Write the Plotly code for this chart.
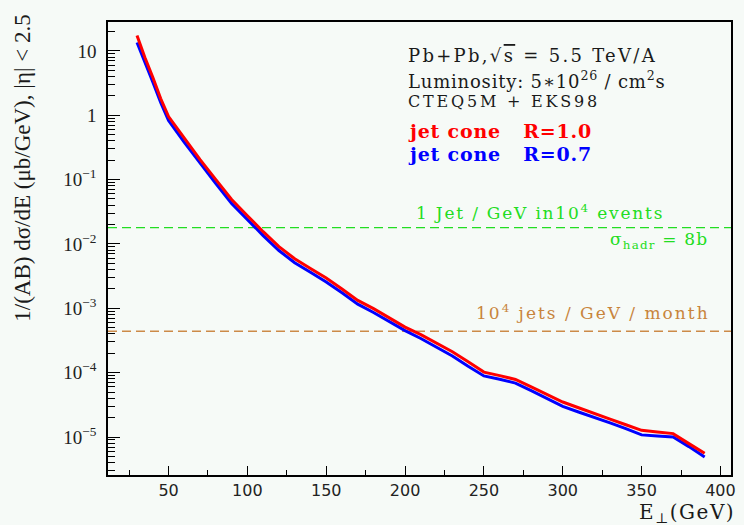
import math
import plotly.graph_objects as go

# Jet transverse energy bins (GeV)
e_perp = [30, 35, 40, 45, 50, 60, 70, 80, 90, 100, 110, 120, 130, 140, 150,
          160, 170, 180, 190, 200, 210, 220, 230, 240, 250, 260, 270, 280,
          290, 300, 310, 320, 330, 340, 350, 360, 370, 380, 390]

# 1/(AB) dsigma/dE (mub/GeV), cone R = 1.0
xsec_r10 = [17.4, 7.9, 3.9, 1.82, 0.955, 0.437, 0.204, 0.100, 0.049, 0.0275,
            0.0155, 0.0091, 0.0059, 0.00417, 0.00295, 0.0020, 0.00133,
            0.00099, 0.00072, 0.00051, 0.00039, 0.00029, 0.000211, 0.000148,
            0.000102, 9.0e-5, 7.85e-5, 6.0e-5, 4.6e-5, 3.5e-5, 2.85e-5,
            2.35e-5, 1.9e-5, 1.55e-5, 1.27e-5, 1.2e-5, 1.13e-5, 7.9e-6, 5.6e-6]

# 1/(AB) dsigma/dE (mub/GeV), cone R = 0.7
xsec_r07 = [13.5, 6.8, 3.3, 1.58, 0.83, 0.38, 0.178, 0.087, 0.0427, 0.024,
            0.0135, 0.0079, 0.0051, 0.00363, 0.00257, 0.00174, 0.00116,
            0.00086, 0.00063, 0.00045, 0.000340, 0.000251, 0.000182, 0.000126,
            8.9e-5, 7.9e-5, 6.9e-5, 5.25e-5, 4.0e-5, 3.0e-5, 2.45e-5,
            2.04e-5, 1.66e-5, 1.35e-5, 1.08e-5, 1.04e-5, 1.0e-5, 7.1e-6, 4.9e-6]

# Reference rate levels (mub/GeV)
one_jet_per_1e4_events = 1.8e-2
jets_1e4_per_month = 4.4e-4

x_range = [11.6, 406.7]
y_range_log = [-5.59, 1.449]
y_tickvals = [10, 1, 1e-1, 1e-2, 1e-3, 1e-4, 1e-5]
y_ticktext = ["10", "1", "10<sup>\u22121</sup>", "10<sup>\u22122</sup>",
              "10<sup>\u22123</sup>", "10<sup>\u22124</sup>", "10<sup>\u22125</sup>"]
x_tickvals = [50, 100, 150, 200, 250, 300, 350, 400]
x_minor_tickvals = [25, 75, 125, 175, 225, 275, 325, 375]

BG = "#f6faf7"
SERIF = "DejaVu Serif"
GREEN = "#22dd22"
ORANGE = "#c8843c"

fig = go.Figure()

# horizontal rate levels across the full axis width
fig.add_trace(go.Scatter(x=x_range, y=[one_jet_per_1e4_events] * 2, mode="lines",
                         line=dict(color=GREEN, width=1.3, dash="9px,5px"),
                         showlegend=False, hoverinfo="skip"))
fig.add_trace(go.Scatter(x=x_range, y=[jets_1e4_per_month] * 2, mode="lines",
                         line=dict(color="#cc8a48", width=1.6, dash="9px,5px"),
                         showlegend=False, hoverinfo="skip"))

fig.add_trace(go.Scatter(x=e_perp, y=xsec_r07, mode="lines",
                         line=dict(color="#0000ff", width=3), showlegend=False))
fig.add_trace(go.Scatter(x=e_perp, y=xsec_r10, mode="lines",
                         line=dict(color="#ff0000", width=3), showlegend=False))

# plot frame in pixels: left 108, right 736, top 22, bottom 475
L, R, T, B = 108, 736, 22, 475


def px(xp):
    return (xp - L) / (R - L)


def py(yp):
    return (B - yp) / (B - T)


def note(text, x, y, color="#1a1a1a", size=16, font=SERIF, xanchor="left",
         angle=0, spacing=None):
    if spacing is not None:
        text = f"<span style='letter-spacing:{spacing}px'>{text}</span>"
    fig.add_annotation(text=text, xref="paper", yref="paper", x=px(x), y=py(y),
                       xanchor=xanchor, yanchor="middle", showarrow=False,
                       textangle=angle, font=dict(family=font, size=size, color=color))


note("Pb+Pb,\u221a<span style='text-decoration:overline'>s</span> = 5.5 TeV/A",
     408, 55, size=18, spacing=2.3)
note("Luminosity: 5\u221710<sup>26</sup> / cm<sup>2</sup>s", 408, 80, size=18, spacing=0.8)
note("CTEQ5M + EKS98", 408, 101, size=16, spacing=2.8)
note("<b>jet cone\u00a0\u00a0\u00a0R=1.0</b>", 408, 131, color="#ff0000", size=19, spacing=0.8)
note("<b>jet cone\u00a0\u00a0\u00a0R=0.7</b>", 408, 154, color="#0000ff", size=19, spacing=0.8)
note("1 Jet / GeV in10<sup>4</sup> events", 416, 212, color=GREEN, size=17, spacing=1.8)
note("\u03c3<sub>hadr</sub> = 8b", 612, 240, color=GREEN, size=17, spacing=1.2)
note("10<sup>4</sup> jets / GeV / month", 477, 312, color=ORANGE, size=17, spacing=2.0)

# axis titles
note("1/(AB) d\u03c3/dE (\u03bcb/GeV), |\u03b7| < 2.5", 21, 168,
     size=23, font="Liberation Serif", xanchor="center", angle=-90)
note("E<sub>\u22a5</sub>(GeV)", 742, 513, size=20, xanchor="right", spacing=1.5)

fig.update_layout(
    width=744, height=525,
    margin=dict(l=L, r=744 - R, t=T, b=525 - B),
    paper_bgcolor=BG, plot_bgcolor=BG,
    showlegend=False,
)
fig.update_xaxes(
    range=x_range, showgrid=False, zeroline=False,
    showline=True, linecolor="black", linewidth=1.5, mirror=True,
    tickmode="array", tickvals=x_tickvals, ticks="inside", ticklen=9,
    tickcolor="black", tickwidth=1,
    tickfont=dict(family="DejaVu Sans", size=16, color="#222"),
    minor=dict(tickmode="array", tickvals=x_minor_tickvals,
               ticks="inside", ticklen=5, tickcolor="black", showgrid=False),
)
fig.update_yaxes(
    type="log", range=y_range_log, showgrid=False, zeroline=False,
    showline=True, linecolor="black", linewidth=1.5, mirror=True,
    tickmode="array", tickvals=y_tickvals, ticktext=y_ticktext,
    ticks="inside", ticklen=12, tickcolor="black", tickwidth=1,
    tickfont=dict(family="Liberation Serif", size=19, color="#222"),
    ticklabelstandoff=6,
    minor=dict(dtick="D1", ticks="inside", ticklen=7, tickcolor="black", showgrid=False),
)

fig.write_html("out.html")
